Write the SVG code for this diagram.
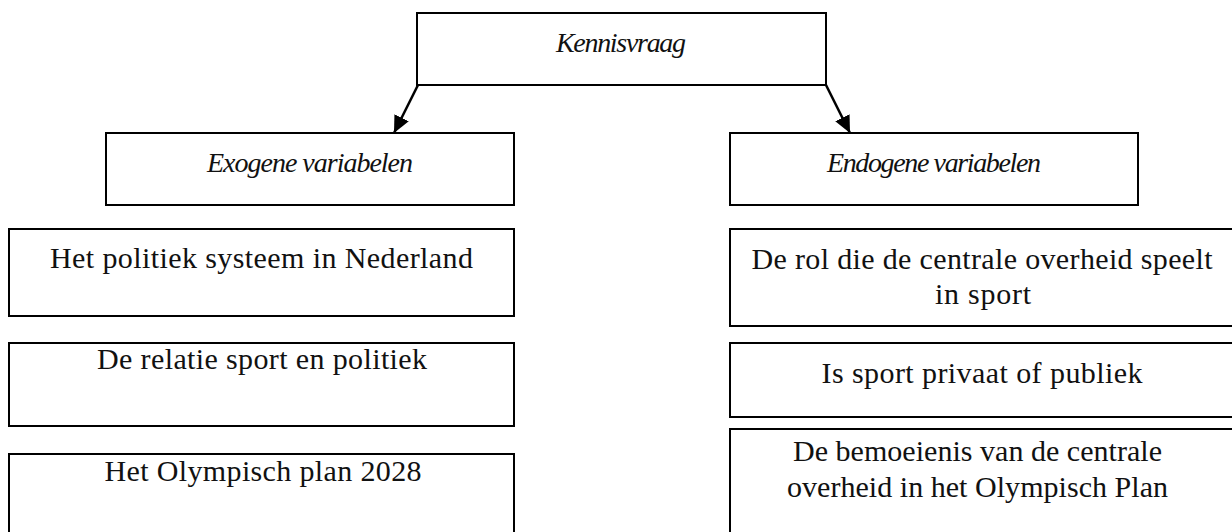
<svg xmlns="http://www.w3.org/2000/svg" width="1232" height="532" viewBox="0 0 1232 532">
<style>
.box{fill:#fff;stroke:#000;stroke-width:2}
.t{font-family:"Liberation Serif","Times New Roman",serif;font-size:30px;fill:#111;text-anchor:middle}
.i{font-style:italic;font-size:28px}
.conn{stroke:#000;stroke-width:2.5;fill:none}
</style>
<defs>
<marker id="ah" markerUnits="userSpaceOnUse" markerWidth="20" markerHeight="20" refX="17" refY="8" orient="auto">
<path d="M0,0 L17,8 L0,16 Z" fill="#000"/>
</marker>
</defs>
<g id="kennisvraag">
<rect class="box" x="417" y="13" width="409" height="72"/>
<text class="t i" x="621" y="52" textLength="130">Kennisvraag</text>
</g>
<g id="exogene">
<rect class="box" x="106" y="133" width="408" height="72"/>
<text class="t i" x="310" y="172" textLength="206">Exogene variabelen</text>
</g>
<g id="endogene">
<rect class="box" x="730" y="133" width="408" height="72"/>
<text class="t i" x="934" y="172" textLength="214">Endogene variabelen</text>
</g>
<g id="ex1">
<rect class="box" x="9" y="229" width="505" height="87"/>
<text class="t" x="261.5" y="268" textLength="423">Het politiek systeem in Nederland</text>
</g>
<g id="ex2">
<rect class="box" x="9" y="343" width="505" height="83"/>
<text class="t" x="262" y="369" textLength="330">De relatie sport en politiek</text>
</g>
<g id="ex3">
<rect class="box" x="9" y="454" width="505" height="90"/>
<text class="t" x="263" y="481" textLength="317">Het Olympisch plan 2028</text>
</g>
<g id="en1">
<rect class="box" x="730" y="229" width="510" height="97"/>
<text class="t" x="982" y="269" textLength="461">De rol die de centrale overheid speelt</text>
<text class="t" x="983" y="304" textLength="96">in sport</text>
</g>
<g id="en2">
<rect class="box" x="730" y="343" width="510" height="74"/>
<text class="t" x="982" y="383" textLength="321">Is sport privaat of publiek</text>
</g>
<g id="en3">
<rect class="box" x="730" y="429" width="510" height="115"/>
<text class="t" x="977.5" y="461" textLength="369">De bemoeienis van de centrale</text>
<text class="t" x="977.5" y="497" textLength="381">overheid in het Olympisch Plan</text>
</g>
<g id="connectors">
<line class="conn" x1="418" y1="85" x2="394" y2="133" marker-end="url(#ah)"/>
<line class="conn" x1="826" y1="85" x2="850" y2="133" marker-end="url(#ah)"/>
</g>
</svg>
